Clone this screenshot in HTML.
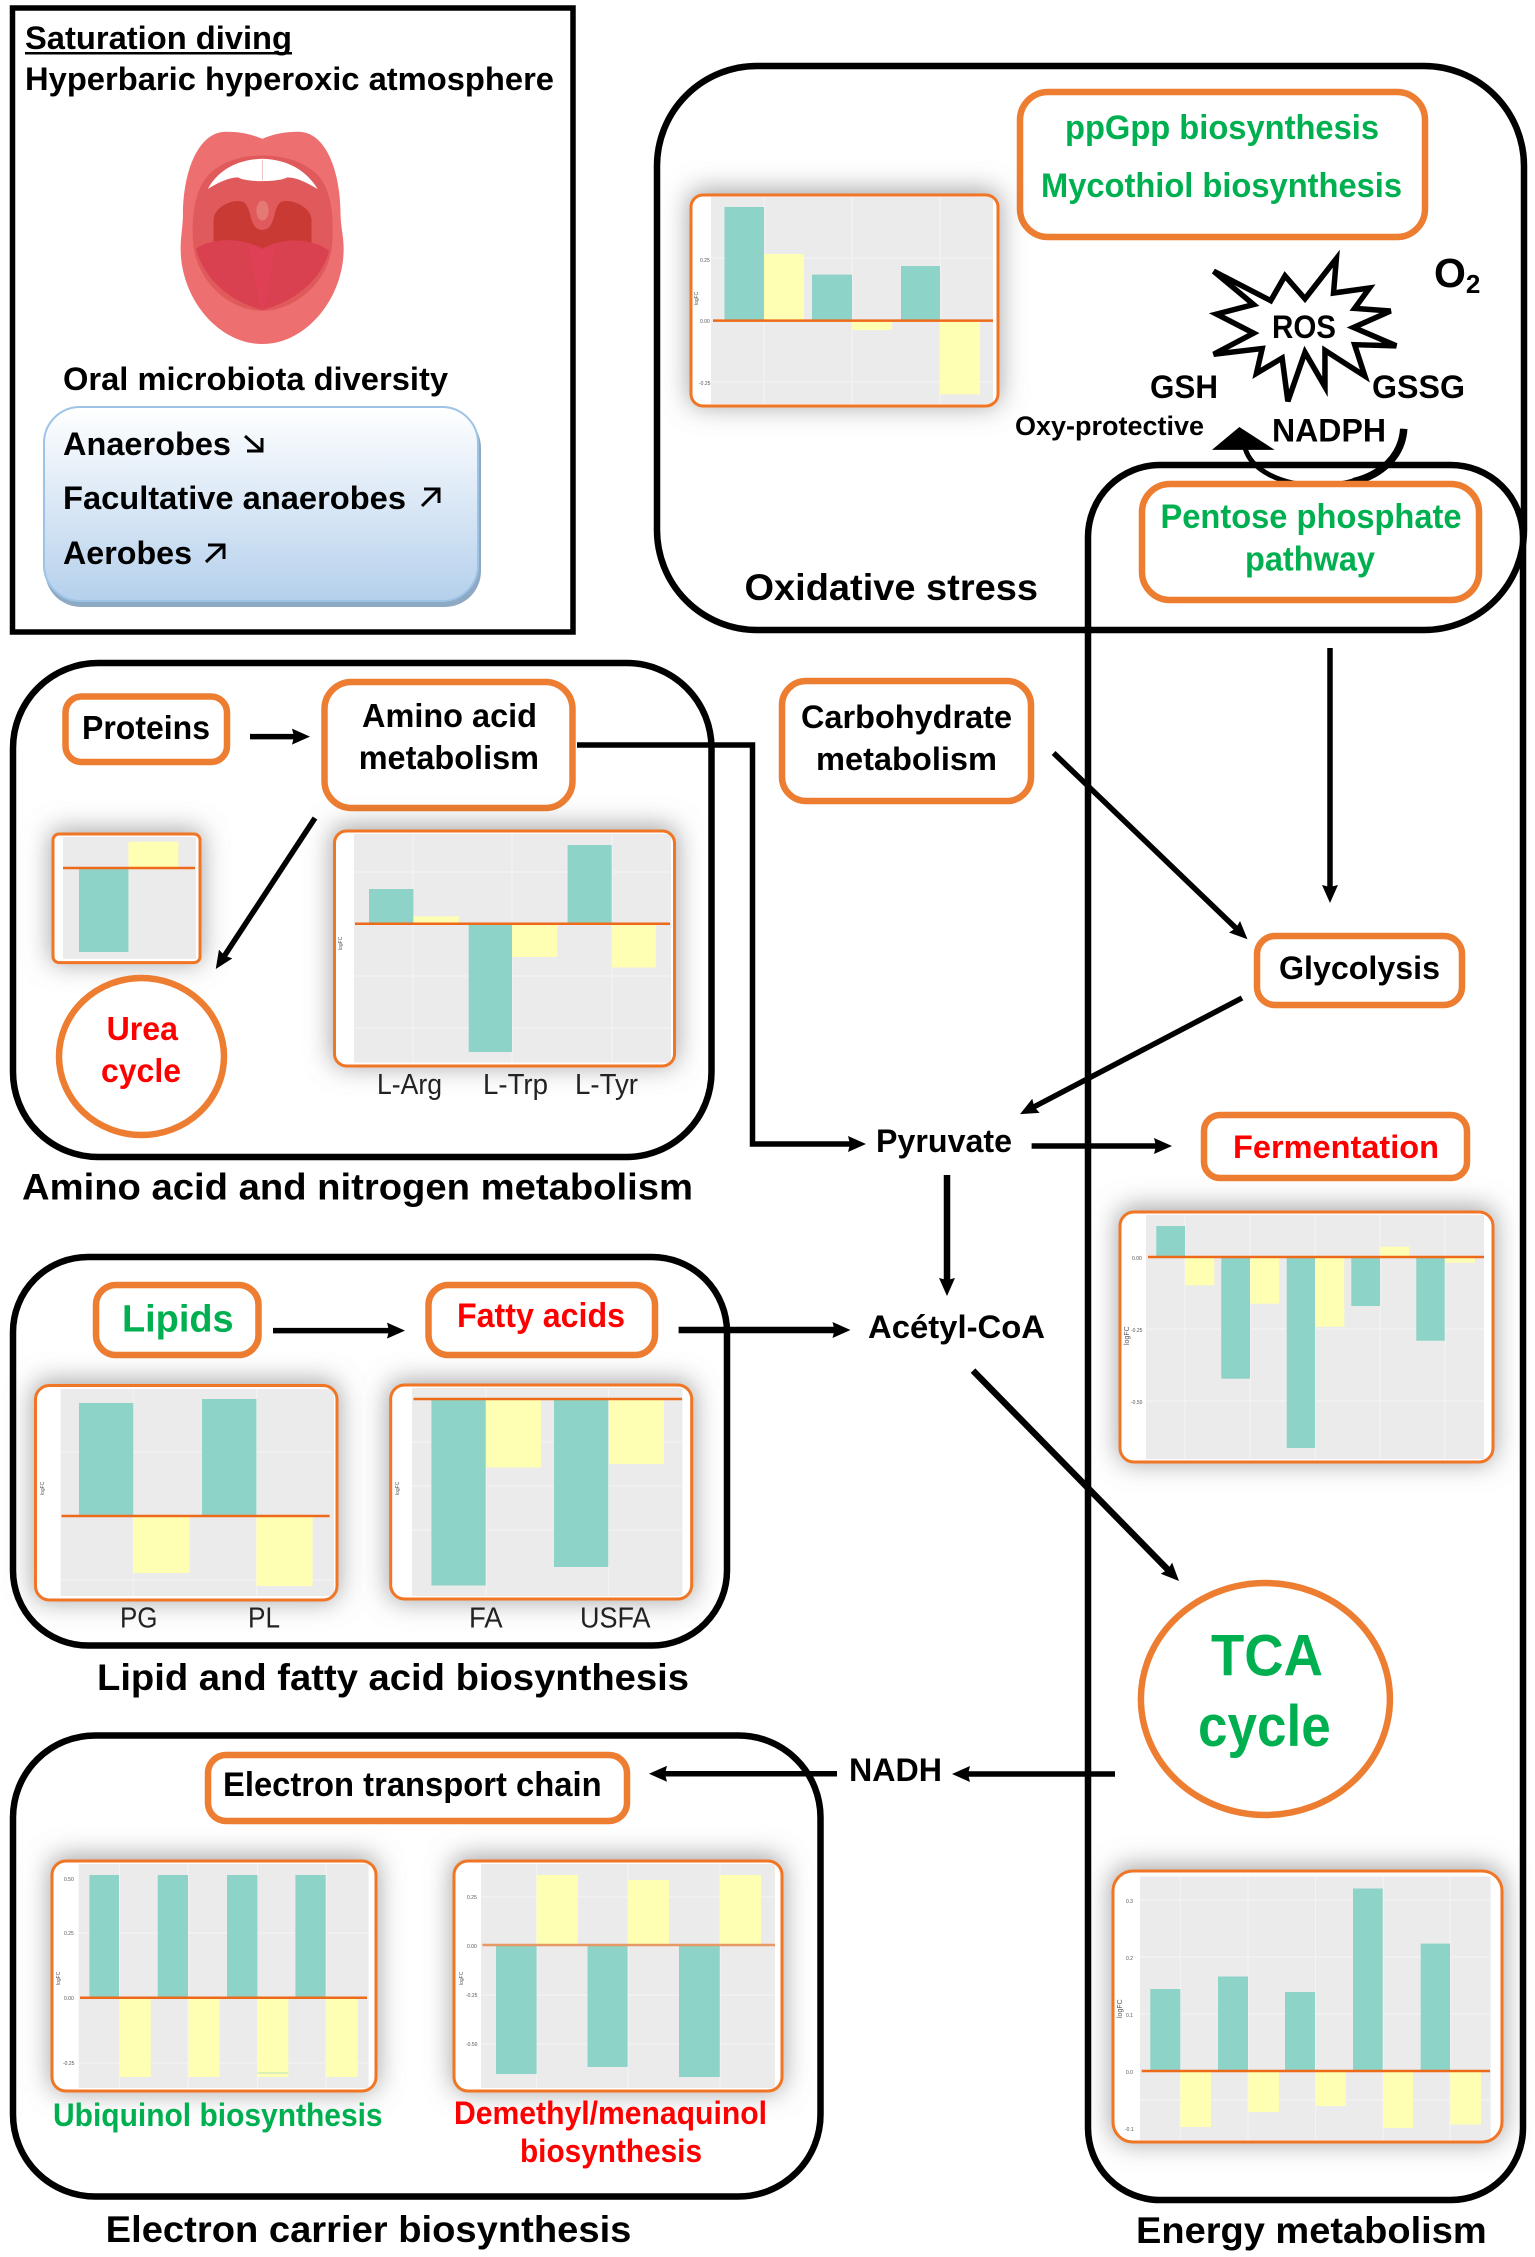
<!DOCTYPE html>
<html lang="en">
<head>
<meta charset="utf-8">
<title>Saturation diving metabolism diagram</title>
<style>
html,body{margin:0;padding:0;background:#fff}
svg{display:block}
text{font-family:"Liberation Sans",sans-serif;font-weight:bold;fill:#000}
.g{fill:#00b050}.r{fill:#ff0000}
.n{font-weight:normal;fill:#222}
.t{font-weight:normal;fill:#555;font-size:5px}
.box{fill:#fff;stroke:#ed7d31;stroke-width:6.5}
.sec{fill:none;stroke:#000;stroke-width:6.5}
.a{fill:none;stroke:#000;stroke-width:5.5;marker-end:url(#h)}
.sh{fill:#6a6a6a;opacity:.62;mix-blend-mode:multiply}
.cw{fill:#fff}
.pl{fill:#ebebeb}
.c{fill:#8dd3c7}
.y{fill:#ffffb3}
.z{stroke:#ed6a1a;stroke-width:2.5}
.cb{fill:none;stroke:#f07524;stroke-width:3}
.gl{stroke:#f4f4f4;stroke-width:1}
</style>
</head>
<body>
<svg xmlns="http://www.w3.org/2000/svg" width="1535" height="2257" viewBox="0 0 1535 2257">
<defs>
<filter id="b" filterUnits="userSpaceOnUse" x="0" y="0" width="1535" height="2257"><feGaussianBlur stdDeviation="13"/></filter>
<marker id="h" viewBox="0 0 18 16" refX="9" refY="8" markerUnits="userSpaceOnUse" markerWidth="18" markerHeight="16" orient="auto"><path d="M0 0L18 8L0 16L2 8Z" fill="#000"/></marker>
<linearGradient id="bl" x1="0" y1="0" x2="0" y2="1"><stop offset="0" stop-color="#fff"/><stop offset="1" stop-color="#b5d0ec"/></linearGradient>
</defs>

<!-- Top-left panel -->
<rect x="12.5" y="8" width="560.5" height="624" fill="#fff" stroke="#000" stroke-width="5.5"/>
<text x="25" y="49" font-size="32" textLength="267" lengthAdjust="spacingAndGlyphs">Saturation diving</text>
<rect x="25" y="52" width="267" height="2.5" fill="#000"/>
<text x="25" y="90" font-size="32" textLength="529" lengthAdjust="spacingAndGlyphs">Hyperbaric hyperoxic atmosphere</text>
<g transform="scale(.3827 .4145)">
<path d="M686 335C660 325 630 318 590 318C520 318 478 410 478 520C478 545 472 570 472 600C472 720 570 830 686 830C800 830 898 720 898 600C898 570 890 545 890 520C890 410 850 318 780 318C740 318 710 325 686 335Z" fill="#ee6f6f"/>
<path d="M686 375C620 375 560 395 530 440C505 480 500 540 505 590C515 680 600 750 686 750C770 750 860 680 868 590C872 530 868 480 845 440C815 395 750 375 686 375Z" fill="#e05a5c"/>
<path d="M543 456C570 410 620 385 686 383C750 385 800 410 830 456C800 440 775 428 750 428C730 440 640 440 622 428C600 428 570 440 543 456Z" fill="#fff"/>
<rect x="685" y="385" width="2" height="50" fill="#e8b0b0"/>
<path d="M558 585L558 530C560 495 620 475 640 490C660 510 650 552 686 555C720 552 712 510 730 490C750 475 812 495 814 530L814 585L686 605Z" fill="#c93a35"/>
<ellipse cx="686" cy="508" rx="16" ry="24" fill="#e57a74"/>
<path d="M512 600C560 570 640 575 686 600C730 575 810 570 860 605C840 680 760 730 686 748C610 730 535 680 512 600Z" fill="#d94050"/>
<path d="M650 590L686 602L720 590L690 745L680 745Z" fill="#e04055"/>
</g>
<text x="63" y="390" font-size="32" textLength="385" lengthAdjust="spacingAndGlyphs">Oral microbiota diversity</text>
<rect x="45" y="412" width="436" height="195" rx="36" fill="#8ea9c4"/>
<rect x="44" y="407" width="434" height="194" rx="36" fill="url(#bl)" stroke="#9dc3e6" stroke-width="2"/>
<text x="63" y="455" font-size="32" textLength="168" lengthAdjust="spacingAndGlyphs">Anaerobes</text>
<path d="M245 436L262 451M262 438V451H247" fill="none" stroke="#000" stroke-width="3"/>
<text x="63" y="509" font-size="32" textLength="343" lengthAdjust="spacingAndGlyphs">Facultative anaerobes</text>
<path d="M422 506L439 489M424 489H439V503" fill="none" stroke="#000" stroke-width="3"/>
<text x="63" y="564" font-size="32" textLength="129" lengthAdjust="spacingAndGlyphs">Aerobes</text>
<path d="M206 562L224 545M208 545H224V559" fill="none" stroke="#000" stroke-width="3"/>

<!-- Oxidative stress -->
<rect x="657" y="66" width="867" height="564" rx="100" ry="100" class="sec"/>
<rect x="1020" y="92" width="405" height="145" rx="28" class="box"/>
<text class="g" x="1065" y="139" font-size="34" textLength="314" lengthAdjust="spacingAndGlyphs">ppGpp biosynthesis</text>
<text class="g" x="1041" y="197" font-size="34" textLength="361" lengthAdjust="spacingAndGlyphs">Mycothiol biosynthesis</text>

<rect class="sh" x="689" y="190" width="311" height="216" rx="12" filter="url(#b)"/>
<rect class="cw" x="691" y="195" width="307" height="211" rx="12"/>
<rect class="pl" x="711" y="197" width="282" height="207"/>
<path class="gl" d="M764 197V404M852 197V404M940 197V404M711 258H993M711 382H993"/>
<rect class="c" x="724.5" y="207" width="39.5" height="113.6"/>
<rect class="y" x="764" y="254" width="40" height="66.6"/>
<rect class="c" x="812" y="274.6" width="40" height="46"/>
<rect class="y" x="852" y="320.6" width="40" height="9.4"/>
<rect class="c" x="901" y="266" width="39" height="54.6"/>
<rect class="y" x="940" y="320.6" width="40" height="73.8"/>
<line class="z" x1="713" y1="320.6" x2="993" y2="320.6"/>
<rect class="cb" x="691" y="195" width="307" height="211" rx="12"/>
<text class="t" x="700" y="262">0.25</text><text class="t" x="700" y="323">0.00</text><text class="t" x="699" y="385">-0.25</text>
<text class="t" transform="translate(698 305) rotate(-90)">logFC</text>

<g transform="translate(640 50) scale(.5708 .3827)">
<path d="M1005 578L1105 655L1130 590L1165 650L1220 545L1215 635L1278 622L1252 675L1315 682L1250 725L1325 773L1252 770L1270 852L1200 785L1200 880L1165 790L1135 918L1125 805L1080 845L1090 780L1005 795L1075 740L1010 690L1075 665Z" fill="#fff" stroke="#000" stroke-width="5.5" vector-effect="non-scaling-stroke"/>
</g>
<text x="1272" y="338" font-size="32" textLength="64" lengthAdjust="spacingAndGlyphs">ROS</text>
<text x="1434" y="287" font-size="41">O<tspan font-size="26" dy="6">2</tspan></text>
<text x="1150" y="398" font-size="32" textLength="68" lengthAdjust="spacingAndGlyphs">GSH</text>
<text x="1372" y="398" font-size="32" textLength="93" lengthAdjust="spacingAndGlyphs">GSSG</text>
<text x="1015" y="435" font-size="27" textLength="189" lengthAdjust="spacingAndGlyphs">Oxy-protective</text>
<text x="1272" y="441.5" font-size="32" textLength="114" lengthAdjust="spacingAndGlyphs">NADPH</text>

<!-- Energy metabolism -->
<rect x="1088" y="465" width="435" height="1735" rx="72" ry="72" class="sec"/>

<g transform="translate(640 50) scale(.5708 .3827)">
<path d="M1338 990C1335 1090 1260 1138 1190 1138C1120 1138 1070 1095 1060 1040" fill="none" stroke="#000" stroke-width="5" vector-effect="non-scaling-stroke"/>
<path d="M1338 990C1335 1060 1300 1110 1250 1128" fill="none" stroke="#000" stroke-width="7.5" vector-effect="non-scaling-stroke"/>
<path d="M1050 985L1002 1045H1112Z" fill="#000"/>
</g>

<rect x="1142" y="484" width="337" height="116" rx="28" class="box"/>
<text class="g" x="1160.5" y="528" font-size="34" textLength="301" lengthAdjust="spacingAndGlyphs">Pentose phosphate</text>
<text class="g" x="1245" y="570.5" font-size="34" textLength="130" lengthAdjust="spacingAndGlyphs">pathway</text>
<text x="744.5" y="600" font-size="37" textLength="293.5" lengthAdjust="spacingAndGlyphs">Oxidative stress</text>

<!-- Amino acid section -->
<rect x="13" y="663" width="698.5" height="494" rx="85" class="sec"/>
<rect x="65.5" y="696.5" width="161.5" height="65.5" rx="16" class="box"/>
<text x="82" y="739" font-size="33" textLength="128" lengthAdjust="spacingAndGlyphs">Proteins</text>
<rect x="324.5" y="682" width="248" height="126" rx="27" class="box"/>
<text x="362" y="727" font-size="33.5" textLength="175" lengthAdjust="spacingAndGlyphs">Amino acid</text>
<text x="358.7" y="769" font-size="33.5" textLength="180.3" lengthAdjust="spacingAndGlyphs">metabolism</text>

<rect class="sh" x="51" y="830" width="151" height="133" rx="6" filter="url(#b)"/>
<rect class="cw" x="53" y="834" width="147" height="128.6" rx="6"/>
<rect class="pl" x="63" y="837" width="133" height="122"/>
<rect class="c" x="79" y="868" width="49.4" height="84"/>
<rect class="y" x="128.4" y="841.7" width="50" height="26.3"/>
<line class="z" x1="63" y1="868" x2="195" y2="868"/>
<rect class="cb" x="53" y="834" width="147" height="128.6" rx="6"/>

<ellipse cx="141.5" cy="1056.5" rx="82.5" ry="78.5" fill="#fff" stroke="#ed7d31" stroke-width="6.5"/>
<text class="r" x="106.6" y="1040" font-size="33" textLength="71.4" lengthAdjust="spacingAndGlyphs">Urea</text>
<text class="r" x="101" y="1082" font-size="33" textLength="80" lengthAdjust="spacingAndGlyphs">cycle</text>

<rect class="sh" x="332" y="826" width="345" height="240" rx="12" filter="url(#b)"/>
<rect class="cw" x="334.5" y="831" width="340" height="235" rx="12"/>
<rect class="pl" x="354" y="834" width="317" height="228.6"/>
<path class="gl" d="M413 834V1062M512 834V1062M612 834V1062M354 872H671M354 976H671M354 1028H671"/>
<rect class="c" x="369" y="889" width="44.4" height="34.8"/>
<rect class="y" x="413.4" y="916.4" width="45.6" height="7.4"/>
<rect class="c" x="468.7" y="923.8" width="43.3" height="128.2"/>
<rect class="y" x="512" y="923.8" width="45.4" height="33.2"/>
<rect class="c" x="567.6" y="845" width="44.1" height="78.8"/>
<rect class="y" x="611.7" y="923.8" width="44.1" height="43.7"/>
<line class="z" x1="355" y1="923.8" x2="670" y2="923.8"/>
<rect class="cb" x="334.5" y="831" width="340" height="235" rx="12"/>
<text class="t" transform="translate(342 950) rotate(-90)">logFC</text>
<text class="n" x="377" y="1094" font-size="29" textLength="65" lengthAdjust="spacingAndGlyphs">L-Arg</text>
<text class="n" x="483" y="1094" font-size="29" textLength="65" lengthAdjust="spacingAndGlyphs">L-Trp</text>
<text class="n" x="575" y="1094" font-size="29" textLength="63" lengthAdjust="spacingAndGlyphs">L-Tyr</text>
<text x="22" y="1199.5" font-size="37" textLength="671" lengthAdjust="spacingAndGlyphs">Amino acid and nitrogen metabolism</text>

<!-- Lipid section -->
<rect x="13" y="1257" width="714" height="388.5" rx="75" class="sec"/>
<rect x="96" y="1285" width="162.5" height="70" rx="20" class="box"/>
<text class="g" x="122" y="1331.6" font-size="38" textLength="111.6" lengthAdjust="spacingAndGlyphs">Lipids</text>
<rect x="428.5" y="1285" width="226.5" height="70" rx="20" class="box"/>
<text class="r" x="457" y="1327" font-size="34" textLength="168" lengthAdjust="spacingAndGlyphs">Fatty acids</text>

<rect class="sh" x="33" y="1381" width="306" height="220" rx="14" filter="url(#b)"/>
<rect class="cw" x="35.5" y="1385.5" width="301.5" height="214.5" rx="14"/>
<rect class="pl" x="60.6" y="1389" width="273.4" height="207"/>
<path class="gl" d="M133.3 1389V1596M256.4 1389V1596M60 1452H334M60 1580H334"/>
<rect class="c" x="79" y="1403" width="54.3" height="113"/>
<rect class="y" x="133.3" y="1516" width="56.2" height="57"/>
<rect class="c" x="202" y="1399" width="54.4" height="117"/>
<rect class="y" x="256.4" y="1516" width="56.2" height="70"/>
<line class="z" x1="61.5" y1="1516" x2="329.6" y2="1516"/>
<rect class="cb" x="35.5" y="1385.5" width="301.5" height="214.5" rx="14"/>
<text class="t" transform="translate(44 1495) rotate(-90)">logFC</text>
<text class="n" x="120" y="1627.7" font-size="29" textLength="37.5" lengthAdjust="spacingAndGlyphs">PG</text>
<text class="n" x="248" y="1627.7" font-size="29" textLength="32" lengthAdjust="spacingAndGlyphs">PL</text>

<rect class="sh" x="388" y="1381" width="306" height="220" rx="14" filter="url(#b)"/>
<rect class="cw" x="390.7" y="1385" width="301" height="214" rx="14"/>
<rect class="pl" x="412" y="1388" width="270.4" height="208"/>
<path class="gl" d="M486 1388V1596M608.5 1388V1596M412 1442H682M412 1486H682M412 1530H682"/>
<rect class="c" x="431.4" y="1399" width="54.3" height="186.5"/>
<rect class="y" x="486" y="1399" width="55" height="68.5"/>
<rect class="c" x="554" y="1399" width="54.3" height="168"/>
<rect class="y" x="608.8" y="1399" width="55.2" height="65"/>
<line class="z" x1="413.5" y1="1399" x2="682" y2="1399"/>
<rect class="cb" x="390.7" y="1385" width="301" height="214" rx="14"/>
<text class="t" transform="translate(399 1495) rotate(-90)">logFC</text>
<text class="n" x="469" y="1627.7" font-size="29" textLength="33.6" lengthAdjust="spacingAndGlyphs">FA</text>
<text class="n" x="580" y="1627.7" font-size="29" textLength="70.5" lengthAdjust="spacingAndGlyphs">USFA</text>
<text x="97" y="1690" font-size="37" textLength="592" lengthAdjust="spacingAndGlyphs">Lipid and fatty acid biosynthesis</text>

<!-- Electron carrier section -->
<rect x="13" y="1735.5" width="807.5" height="461" rx="82" class="sec"/>
<rect x="208" y="1755" width="419" height="66" rx="18" class="box"/>
<text x="223" y="1796" font-size="34" textLength="378.6" lengthAdjust="spacingAndGlyphs">Electron transport chain</text>

<rect class="sh" x="50" y="1856" width="328" height="236" rx="14" filter="url(#b)"/>
<rect class="cw" x="52" y="1861" width="324" height="230" rx="14"/>
<rect class="pl" x="78.6" y="1864" width="290" height="224"/>
<path class="gl" d="M119.5 1864V2088M188 1864V2088M257.5 1864V2088M326 1864V2088M78.6 1933H368.6M78.6 2063H368.6"/>
<rect class="c" x="89.4" y="1875" width="29.6" height="122.8"/>
<rect class="c" x="157.7" y="1875" width="30.3" height="122.8"/>
<rect class="c" x="227" y="1875" width="30.5" height="122.8"/>
<rect class="c" x="295.4" y="1875" width="30.3" height="122.8"/>
<rect class="y" x="119.8" y="1997.8" width="30.9" height="79.2"/>
<rect class="y" x="188.6" y="1997.8" width="30.9" height="79.2"/>
<rect class="y" x="257.5" y="1997.8" width="30.8" height="79.2"/>
<rect class="y" x="326.3" y="1997.8" width="31.4" height="79.2"/>
<line x1="257.5" y1="2073" x2="288" y2="2073" stroke="#c4e8b8" stroke-width="1.2"/>
<line class="z" x1="80" y1="1997.8" x2="367" y2="1997.8"/>
<rect class="cb" x="52" y="1861" width="324" height="230" rx="14"/>
<text class="t" x="64" y="1881">0.50</text><text class="t" x="64" y="1935">0.25</text><text class="t" x="64" y="2000">0.00</text><text class="t" x="63" y="2065">-0.25</text>
<text class="t" transform="translate(60 1985) rotate(-90)">logFC</text>
<text class="g" x="53" y="2126" font-size="32" textLength="329.6" lengthAdjust="spacingAndGlyphs">Ubiquinol biosynthesis</text>

<rect class="sh" x="452" y="1856" width="332" height="236" rx="14" filter="url(#b)"/>
<rect class="cw" x="454" y="1861" width="328" height="230" rx="14"/>
<rect class="pl" x="481" y="1864" width="294" height="224"/>
<path class="gl" d="M536.6 1864V2088M628 1864V2088M720 1864V2088M481 1897H775M481 1995H775M481 2044H775"/>
<rect class="c" x="496" y="1945" width="40.6" height="129"/>
<rect class="c" x="587.5" y="1945" width="40.1" height="122"/>
<rect class="c" x="679" y="1945" width="40.8" height="132"/>
<rect class="y" x="536.6" y="1875" width="41.2" height="70"/>
<rect class="y" x="628" y="1880" width="41" height="65"/>
<rect class="y" x="720" y="1875" width="41" height="70"/>
<line class="z" x1="482.4" y1="1945" x2="775" y2="1945" style="stroke:#e59a66"/>
<rect class="cb" x="454" y="1861" width="328" height="230" rx="14"/>
<text class="t" x="467" y="1899">0.25</text><text class="t" x="467" y="1948">0.00</text><text class="t" x="466" y="1997">-0.25</text><text class="t" x="466" y="2046">-0.50</text>
<text class="t" transform="translate(463 1985) rotate(-90)">logFC</text>
<text class="r" x="454" y="2124" font-size="32" textLength="313" lengthAdjust="spacingAndGlyphs">Demethyl/menaquinol</text>
<text class="r" x="520" y="2162" font-size="32" textLength="182" lengthAdjust="spacingAndGlyphs">biosynthesis</text>
<text x="105.7" y="2242" font-size="37" textLength="525.7" lengthAdjust="spacingAndGlyphs">Electron carrier biosynthesis</text>

<!-- Centre nodes -->
<rect x="782" y="681" width="249" height="120" rx="24" class="box"/>
<text x="801" y="728" font-size="32" textLength="211" lengthAdjust="spacingAndGlyphs">Carbohydrate</text>
<text x="816" y="770" font-size="32" textLength="181" lengthAdjust="spacingAndGlyphs">metabolism</text>
<rect x="1257" y="936" width="205" height="69" rx="18" class="box"/>
<text x="1279" y="979" font-size="32" textLength="161" lengthAdjust="spacingAndGlyphs">Glycolysis</text>
<text x="876" y="1152" font-size="32" textLength="136" lengthAdjust="spacingAndGlyphs">Pyruvate</text>
<rect x="1204" y="1115" width="263" height="63" rx="16" class="box"/>
<text class="r" x="1233" y="1158" font-size="32" textLength="206" lengthAdjust="spacingAndGlyphs">Fermentation</text>
<text x="868" y="1338" font-size="32" textLength="177" lengthAdjust="spacingAndGlyphs">Acétyl-CoA</text>
<text x="849" y="1781" font-size="32" textLength="93" lengthAdjust="spacingAndGlyphs">NADH</text>

<!-- Fermentation chart -->
<rect class="sh" x="1118" y="1207" width="377" height="256" rx="14" filter="url(#b)"/>
<rect class="cw" x="1120" y="1212" width="373" height="250" rx="14"/>
<rect class="pl" x="1146" y="1215" width="338" height="244"/>
<path class="gl" d="M1185 1215V1459M1250 1215V1459M1315 1215V1459M1380 1215V1459M1445 1215V1459M1146 1329H1484M1146 1401H1484"/>
<rect class="c" x="1156.3" y="1226" width="28.7" height="31"/>
<rect class="y" x="1185" y="1257" width="29.3" height="28.3"/>
<rect class="c" x="1221.3" y="1257" width="28.7" height="121.7"/>
<rect class="y" x="1250.3" y="1257" width="29" height="46.7"/>
<rect class="c" x="1286.7" y="1257" width="28.3" height="191"/>
<rect class="y" x="1315.3" y="1257" width="29" height="69.7"/>
<rect class="c" x="1351.3" y="1257" width="28.7" height="49"/>
<rect class="y" x="1380.3" y="1246.7" width="29" height="10.3"/>
<rect class="c" x="1416.3" y="1257" width="28.4" height="83.7"/>
<rect class="y" x="1445" y="1257" width="30" height="5.7"/>
<line class="z" x1="1148" y1="1257" x2="1484" y2="1257"/>
<rect class="cb" x="1120" y="1212" width="373" height="250" rx="14"/>
<text class="t" x="1132" y="1260">0.00</text><text class="t" x="1131" y="1332">-0.25</text><text class="t" x="1131" y="1404">-0.50</text>
<text class="t" style="font-size:7px" transform="translate(1129 1345) rotate(-90)">logFC</text>

<!-- TCA -->
<ellipse cx="1265.4" cy="1699" rx="124.5" ry="116" fill="#fff" stroke="#ed7d31" stroke-width="6.5"/>
<text class="g" x="1211" y="1675.6" font-size="58" textLength="112" lengthAdjust="spacingAndGlyphs">TCA</text>
<text class="g" x="1198" y="1746" font-size="58" textLength="132.7" lengthAdjust="spacingAndGlyphs">cycle</text>

<!-- Energy chart -->
<rect class="sh" x="1111" y="1866" width="393" height="277" rx="20" filter="url(#b)"/>
<rect class="cw" x="1113" y="1871" width="389" height="271" rx="20"/>
<rect class="pl" x="1140" y="1876.5" width="350.7" height="263.5"/>
<path class="gl" d="M1180.3 1877V2140M1248 1877V2140M1315.5 1877V2140M1383 1877V2140M1450 1877V2140M1140 1900H1490M1140 1957H1490M1140 2014H1490M1140 2100H1490"/>
<rect class="c" x="1150.3" y="1989" width="30" height="82"/>
<rect class="c" x="1218" y="1976.5" width="30" height="94.5"/>
<rect class="c" x="1285" y="1992" width="30" height="79"/>
<rect class="c" x="1353" y="1888.5" width="29.7" height="182.5"/>
<rect class="c" x="1420.7" y="1943.6" width="29.3" height="127.4"/>
<rect class="y" x="1180.3" y="2071" width="30.7" height="56"/>
<rect class="y" x="1248.3" y="2071" width="30.7" height="41"/>
<rect class="y" x="1315.7" y="2071" width="30" height="35"/>
<rect class="y" x="1383" y="2071" width="30" height="57"/>
<rect class="y" x="1450.3" y="2071" width="30.7" height="53.5"/>
<line class="z" x1="1141.7" y1="2071" x2="1490" y2="2071"/>
<rect class="cb" x="1113" y="1871" width="389" height="271" rx="20"/>
<text class="t" x="1126" y="1903">0.3</text><text class="t" x="1126" y="1960">0.2</text><text class="t" x="1126" y="2017">0.1</text><text class="t" x="1126" y="2074">0.0</text><text class="t" x="1125" y="2131">-0.1</text>
<text class="t" style="font-size:7px" transform="translate(1122 2018) rotate(-90)">logFC</text>
<text x="1136" y="2243" font-size="37" textLength="350.7" lengthAdjust="spacingAndGlyphs">Energy metabolism</text>

<!-- Arrows -->
<path class="a" d="M1330 648V894"/>
<path class="a" d="M1053.6 753L1241 933"/>
<path class="a" d="M1242 998L1028 1110"/>
<path class="a" d="M577 745H752.5V1144H857"/>
<path class="a" d="M1031.6 1146H1163"/>
<path class="a" style="stroke-width:6.5" d="M947 1175V1287"/>
<path class="a" style="stroke-width:6.5" d="M678.6 1330H841.5"/>
<path class="a" style="stroke-width:6.5" d="M973 1370.6L1172.7 1574.6"/>
<path class="a" d="M1115 1774H961"/>
<path class="a" d="M837 1773.8H658"/>
<path class="a" d="M250 736.6H301"/>
<path class="a" d="M273 1330.6H396"/>
<path class="a" d="M315 818L220.7 961.5"/>
</svg>
</body>
</html>
